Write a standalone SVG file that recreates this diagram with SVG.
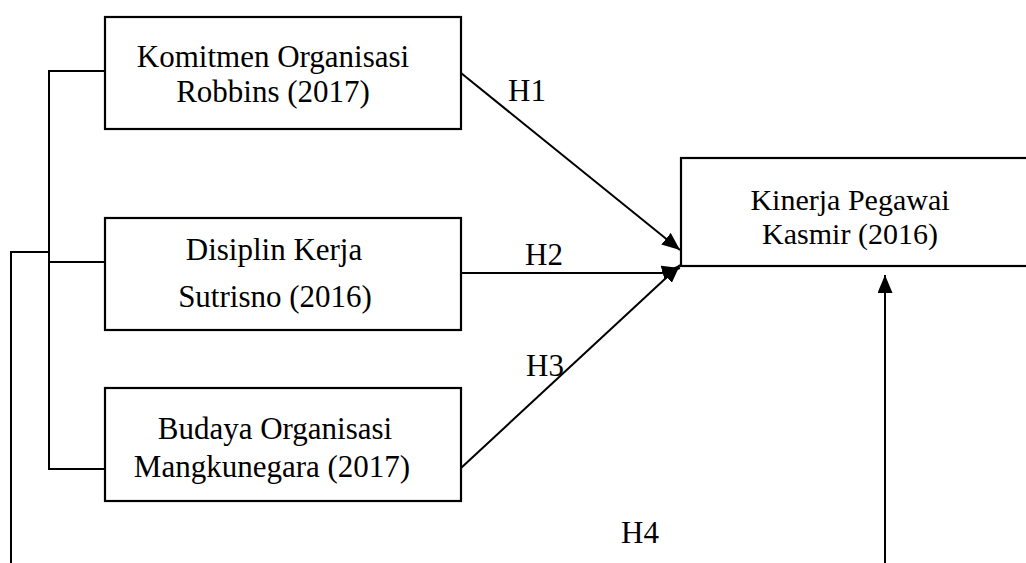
<svg xmlns="http://www.w3.org/2000/svg" width="1026" height="563" viewBox="0 0 1026 563">
<style>
.box{fill:#fff;stroke:#000;stroke-width:2.2}
.ln{fill:none;stroke:#000;stroke-width:2}
text{font-family:"Liberation Serif","Times New Roman",serif;font-size:31px;fill:#000}
.c{text-anchor:middle}
.k{font-size:30px}
</style>
<defs>
<marker id="ah" viewBox="0 0 18 15" refX="18" refY="7.5" markerWidth="18" markerHeight="15" markerUnits="userSpaceOnUse" orient="auto">
<path d="M0,0 L18,7.5 L0,15 Z" fill="#000"/>
</marker>
</defs>
<rect width="1026" height="563" fill="#fff"/>
<g id="connectors">
<polyline class="ln" points="105,71 49,71 49,469 105,469"/>
<line class="ln" x1="49" y1="262" x2="105" y2="262"/>
<polyline class="ln" points="49,252 11,252 11,563"/>
<line class="ln" x1="461" y1="73" x2="680" y2="250" marker-end="url(#ah)"/>
<path class="ln" d="M461,273 L662,273 L680,268" marker-end="url(#ah)"/>
<line class="ln" x1="461" y1="468" x2="680" y2="265" marker-end="url(#ah)"/>
<line class="ln" x1="885" y1="563" x2="885" y2="275" marker-end="url(#ah)"/>
<text x="508" y="101">H1</text>
<text x="525" y="265">H2</text>
<text x="526" y="376">H3</text>
<text x="621" y="543">H4</text>
</g>
<g id="komitmen">
<rect class="box" x="105" y="17" width="356" height="112"/>
<text class="c" x="273" y="67">Komitmen Organisasi</text>
<text class="c" x="273" y="102">Robbins (2017)</text>
</g>
<g id="disiplin">
<rect class="box" x="105" y="218" width="356" height="112"/>
<text class="c" x="274" y="260">Disiplin Kerja</text>
<text class="c" x="275" y="307">Sutrisno (2016)</text>
</g>
<g id="budaya">
<rect class="box" x="105" y="388" width="356" height="113"/>
<text class="c" x="275" y="439">Budaya Organisasi</text>
<text class="c" x="272" y="477">Mangkunegara (2017)</text>
</g>
<g id="kinerja">
<rect class="box" x="681" y="158" width="360" height="108"/>
<text class="c k" x="850" y="210">Kinerja Pegawai</text>
<text class="c k" x="850" y="244">Kasmir (2016)</text>
</g>
</svg>
